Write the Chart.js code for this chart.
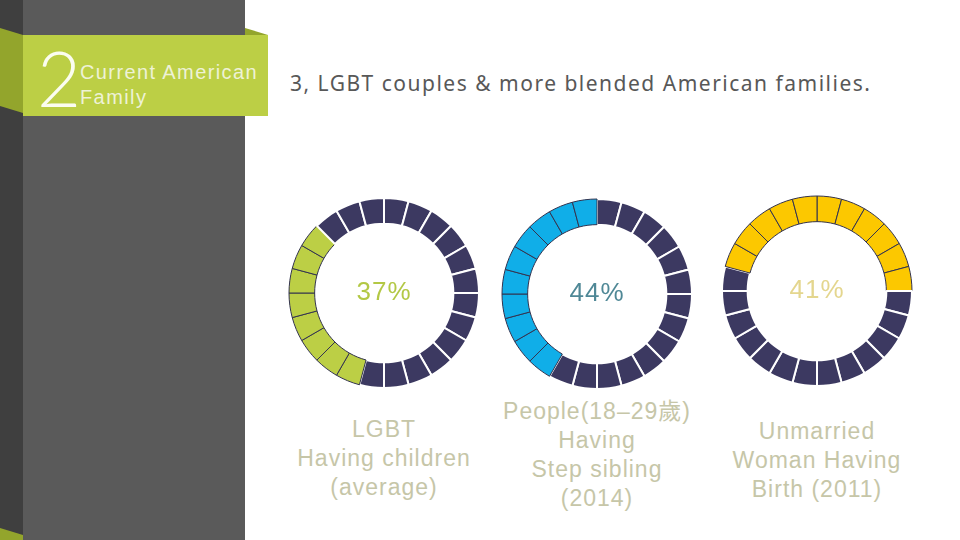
<!DOCTYPE html>
<html>
<head>
<meta charset="utf-8">
<script src="https://cdn.jsdelivr.net/npm/chart.js@4"></script>
<style>
  body { margin:0; width:960px; height:540px; background:#fff; position:relative; overflow:hidden; font-family:"Liberation Sans", Arial, "Noto Sans CJK TC", sans-serif; }
  .abs { position:absolute; }
  .stripe { left:0; top:0; width:23px; height:540px; background:#3f3f3f; }
  .panel { left:23px; top:0; width:222px; height:540px; background:#5a5a5a; }
  .banner { left:23px; top:35px; width:245px; height:81px; background:#bccf45; }
  .big2 { left:37px; top:40px; font-family:"Lato", "Liberation Sans", sans-serif; font-weight:300; font-size:76px; line-height:76px; color:#fbfdf0; }
  .sub { left:80px; top:60px; font-size:20px; line-height:25px; letter-spacing:1.4px; color:#eef2d6; }
  .title { left:290px; top:69px; font-family:"Noto Sans", "Open Sans", sans-serif; font-size:21px; letter-spacing:1.5px; color:#585858; white-space:nowrap; }
  .pct { width:120px; text-align:center; font-size:26px; line-height:30px; letter-spacing:1px; }
  .cap { width:240px; text-align:center; font-size:23px; line-height:29px; letter-spacing:1px; color:#c6c6a8; }
  canvas { position:absolute; }
</style>
</head>
<body>
<div class="abs stripe"></div>
<div class="abs panel"></div>
<svg class="abs" style="left:0;top:0" width="280" height="540">
  <polygon points="0,28 23,35 23,113 0,106" fill="#93a52c"/>
  <polygon points="245,28 268,35 245,35" fill="#93a52c"/>
  <polygon points="0,528 23,535 23,540 0,540" fill="#93a52c"/>
</svg>
<div class="abs banner"></div>
<div class="abs big2">2</div>
<div class="abs sub">Current American<br>Family</div>
<div class="abs title">3, LGBT couples &amp; more blended American families.</div>

<canvas id="c0" width="192" height="192"></canvas>
<canvas id="c1" width="192" height="192"></canvas>
<canvas id="c2" width="192" height="192"></canvas>

<script>
// each ring is made of equal segments, counted clockwise from 12 o'clock
const segmentCount = 24;
const filledStart = [13, 14, 19];
const filledCount = [8, 10, 11];
const percentLabels = ['37%', '44%', '41%'];
const highlightColors = ['#bccf45', '#10aee8', '#fcc800'];
const percentColors = ['#b3c845', '#4f8896', '#e4d68e'];
const captions = [
  ['LGBT', 'Having children', '(average)'],
  ['People(18–29歲)', 'Having', 'Step sibling', '(2014)'],
  ['Unmarried', 'Woman Having', 'Birth (2011)']
];

const centers = [[384, 293], [597, 294], [817, 291]];
const capTops = [415, 397, 417];
const baseColor = '#3c3961';

for (let i = 0; i < 3; i++) {
  const cv = document.getElementById('c' + i);
  cv.style.left = (centers[i][0] - 96) + 'px';
  cv.style.top = (centers[i][1] - 96) + 'px';

  const values = [], colors = [], borders = [], widths = [];
  for (let s = 0; s < segmentCount; s++) {
    const on = ((s - filledStart[i] + segmentCount) % segmentCount) < filledCount[i];
    values.push(1);
    colors.push(on ? highlightColors[i] : baseColor);
    borders.push(on ? '#33334f' : '#ffffff');
    widths.push(on ? 1 : 2);
  }

  new Chart(cv, {
    type: 'doughnut',
    data: {
      labels: values.map((v, k) => 'seg ' + (k + 1)),
      datasets: [{
        data: values,
        backgroundColor: colors,
        borderColor: borders,
        borderWidth: widths
      }]
    },
    options: {
      responsive: false,
      animation: false,
      cutout: '73%',
      plugins: { legend: { display: false }, tooltip: { enabled: false } }
    }
  });

  const p = document.createElement('div');
  p.className = 'abs pct';
  p.textContent = percentLabels[i];
  p.style.left = (centers[i][0] - 60) + 'px';
  p.style.top = (centers[i][1] - 17) + 'px';
  p.style.color = percentColors[i];
  document.body.appendChild(p);

  const c = document.createElement('div');
  c.className = 'abs cap';
  c.innerHTML = captions[i].join('<br>');
  c.style.left = (centers[i][0] - 120) + 'px';
  c.style.top = capTops[i] + 'px';
  document.body.appendChild(c);
}
</script>
</body>
</html>
